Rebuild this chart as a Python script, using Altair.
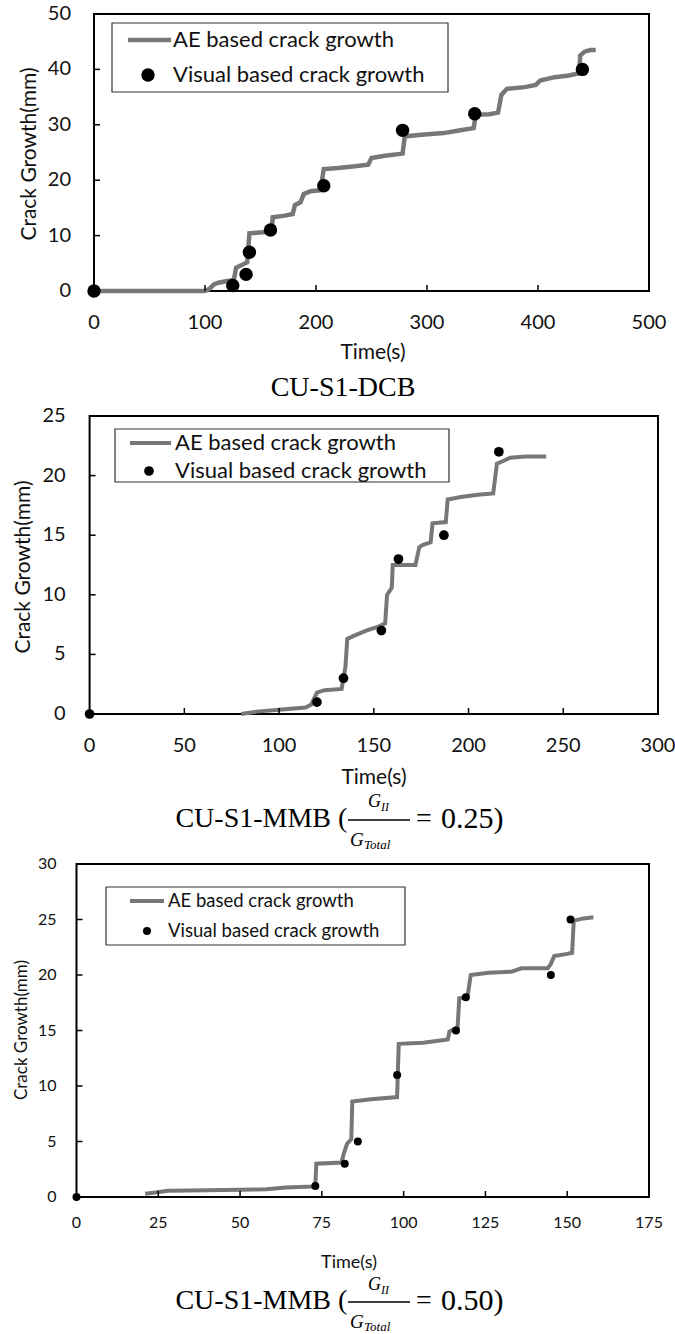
import altair as alt
import pandas as pd

# ---------------- CU-S1-DCB ----------------
dcb_ae_time = [0, 100, 104, 108, 112, 120, 126, 128, 134, 138,
               140, 152, 160, 161, 172, 179, 181, 186, 189, 195,
               204, 207, 220, 235, 247, 250, 262, 278, 280, 295,
               315, 330, 342, 344, 356, 364, 367, 372, 388, 398,
               402, 415, 428, 437, 438, 442, 447, 452]
dcb_ae_growth = [0, 0, 0.4, 1.2, 1.5, 1.8, 2.0, 4.2, 4.8, 5.2,
                 10.4, 10.6, 10.8, 13.3, 13.6, 13.9, 15.5, 16.0, 17.5, 18.0,
                 18.2, 22.0, 22.2, 22.5, 22.8, 24.0, 24.4, 24.8, 27.9, 28.2,
                 28.5, 29.0, 29.4, 31.8, 31.9, 32.2, 35.4, 36.5, 36.8, 37.2,
                 38.0, 38.6, 38.9, 39.3, 42.5, 43.2, 43.5, 43.5]
dcb_vis_time = [0, 125, 137, 140, 159, 207, 278, 343, 440]
dcb_vis_growth = [0, 1, 3, 7, 11, 19, 29, 32, 40]
dcb_x_ticks = [0, 100, 200, 300, 400, 500]
dcb_y_ticks = [0, 10, 20, 30, 40, 50]

# ---------------- CU-S1-MMB, GII/GTotal = 0.25 ----------------
mmb25_ae_time = [80, 88, 100, 114, 117, 120, 124, 133, 134, 135,
                 136, 140, 146, 152, 156, 157, 159.5, 160, 172, 174,
                 176, 180, 181, 188, 189, 196, 205, 213, 215, 218,
                 222, 230, 241]
mmb25_ae_growth = [0, 0.2, 0.35, 0.55, 0.8, 1.8, 2.0, 2.1, 3.0, 3.9,
                   6.3, 6.6, 7.0, 7.3, 7.6, 10.0, 10.6, 12.5, 12.5, 14.0,
                   14.2, 14.4, 16.0, 16.1, 18.0, 18.2, 18.4, 18.5, 21.0, 21.2,
                   21.5, 21.6, 21.6]
mmb25_vis_time = [0, 120, 134, 154, 163, 187, 216]
mmb25_vis_growth = [0, 1, 3, 7, 13, 15, 22]
mmb25_x_ticks = [0, 50, 100, 150, 200, 250, 300]
mmb25_y_ticks = [0, 5, 10, 15, 20, 25]

# ---------------- CU-S1-MMB, GII/GTotal = 0.50 ----------------
mmb50_ae_time = [21, 24, 28, 40, 50, 58, 64, 72, 73, 73.3,
                 81, 81.7, 82.7, 84, 84.3, 90, 98, 98.5, 106, 113.5,
                 114, 116.5, 117, 119.5, 120.5, 126, 133, 136, 144, 145,
                 146, 150, 151.5, 152, 155, 158]
mmb50_ae_growth = [0.3, 0.4, 0.57, 0.6, 0.65, 0.7, 0.85, 0.95, 1.0, 3.0,
                   3.1, 3.9, 4.8, 5.2, 8.6, 8.8, 9.0, 13.8, 13.9, 14.2,
                   14.9, 15.3, 17.9, 18.0, 20.0, 20.2, 20.3, 20.6, 20.6, 21.0,
                   21.7, 21.9, 22.0, 24.9, 25.1, 25.2]
mmb50_vis_time = [0, 73, 82, 86, 98, 116, 119, 145, 151]
mmb50_vis_growth = [0, 1, 3, 5, 11, 15, 18, 20, 25]
mmb50_x_ticks = [0, 25, 50, 75, 100, 125, 150, 175]
mmb50_y_ticks = [0, 5, 10, 15, 20, 25, 30]

LEGEND_LINE = "AE based crack growth"
LEGEND_DOT = "Visual based crack growth"
X_TITLE = "Time(s)"
Y_TITLE = "Crack Growth(mm)"

SANS = "Lato"
SERIF = "Liberation Serif"
GREY = "#777777"
INK = "#111111"
PAGE_W, PAGE_H = 675, 1334


def one():
    return pd.DataFrame({"k": [0]})


def label(x, y, s, size, font=SANS, align="left", style="normal", color=INK, angle=0):
    return alt.Chart(one()).mark_text(
        align=align, baseline="middle", font=font, fontSize=size,
        fontStyle=style, color=color, angle=angle
    ).encode(x=alt.value(x), y=alt.value(y), text=alt.value(s))


def hline(x0, x1, y, color, width):
    return alt.Chart(one()).mark_rule(color=color, strokeWidth=width).encode(
        x=alt.value(x0), x2=alt.value(x1), y=alt.value(y))


def panel(ae_t, ae_g, vis_t, vis_g, xt, yt, box, lay):
    left, right, top, bottom = box
    xs = alt.Scale(domain=[xt[0], xt[-1]], range=[left, right], nice=False, zero=False)
    ys = alt.Scale(domain=[yt[0], yt[-1]], range=[bottom, top], nice=False, zero=False)

    ae = pd.DataFrame({"t": ae_t, "g": ae_g, "i": list(range(len(ae_t)))})
    vis = pd.DataFrame({"t": vis_t, "g": vis_g})

    frame = alt.Chart(pd.DataFrame({
        "x0": [xt[0]], "x1": [xt[-1]], "y0": [yt[0]], "y1": [yt[-1]]
    })).mark_rect(fillOpacity=0, stroke="black", strokeWidth=2).encode(
        x=alt.X("x0:Q", scale=xs, axis=None), x2="x1:Q",
        y=alt.Y("y0:Q", scale=ys, axis=None), y2="y1:Q")

    line = alt.Chart(ae).mark_line(color=GREY, strokeWidth=lay["lw"]).encode(
        x=alt.X("t:Q", scale=xs, axis=None),
        y=alt.Y("g:Q", scale=ys, axis=None),
        order="i:Q")

    dots = alt.Chart(vis).mark_circle(color="black", opacity=1, size=lay["dot"]).encode(
        x=alt.X("t:Q", scale=xs, axis=None),
        y=alt.Y("g:Q", scale=ys, axis=None))

    # inward tick marks
    xtk = alt.Chart(pd.DataFrame({"v": xt[1:-1], "z": [yt[0]] * (len(xt) - 2)})).mark_tick(
        orient="vertical", size=6, thickness=1.5, yOffset=-3, color="black", opacity=1
    ).encode(x=alt.X("v:Q", scale=xs, axis=None), y=alt.Y("z:Q", scale=ys, axis=None))
    ytk = alt.Chart(pd.DataFrame({"v": yt[1:-1], "z": [xt[0]] * (len(yt) - 2)})).mark_tick(
        orient="horizontal", size=6, thickness=1.5, xOffset=3, color="black", opacity=1
    ).encode(y=alt.Y("v:Q", scale=ys, axis=None), x=alt.X("z:Q", scale=xs, axis=None))

    # tick labels placed through the panel scales
    xlab = alt.Chart(pd.DataFrame({"v": xt, "s": [str(v) for v in xt]})).mark_text(
        align="center", baseline="middle", font=SANS, fontSize=lay["tick"], color=INK
    ).encode(x=alt.X("v:Q", scale=xs, axis=None), y=alt.value(bottom + lay["xpad"]),
             text="s:N")
    ylab = alt.Chart(pd.DataFrame({"v": yt, "s": [str(v) for v in yt]})).mark_text(
        align="right", baseline="middle", font=SANS, fontSize=lay["tick"], color=INK
    ).encode(y=alt.Y("v:Q", scale=ys, axis=None), x=alt.value(left - lay["ypad"]),
             text="s:N")
    xtitle = label(lay["xtx"], bottom + lay["xty"], X_TITLE, lay["xtitle"], align="center")
    ytitle = label(lay["ytx"], lay["yty"], Y_TITLE, lay["ytitle"], align="center", angle=270)

    # hand-built legend box
    lb = lay["legend"]
    box_mark = alt.Chart(one()).mark_rect(
        fill="white", stroke="#333333", strokeWidth=1.2
    ).encode(x=alt.value(lb["x0"]), x2=alt.value(lb["x1"]),
             y=alt.value(lb["y0"]), y2=alt.value(lb["y1"]))
    key_line = hline(lb["lx0"], lb["lx1"], lb["ly1"], GREY, lay["lw"])
    key_dot = alt.Chart(one()).mark_circle(color="black", opacity=1, size=lay["dot"]).encode(
        x=alt.value(lb["dx"]), y=alt.value(lb["ly2"]))
    key_t1 = label(lb["tx"], lb["ly1"], LEGEND_LINE, lb["fs"])
    key_t2 = label(lb["tx"], lb["ly2"], LEGEND_DOT, lb["fs"])

    layers = [frame, line, dots, xtk, ytk, xlab, ylab, xtitle, ytitle,
              box_mark, key_line, key_dot, key_t1, key_t2]
    layers += lay["caption"]
    return alt.layer(*layers)


def ratio_caption(cy, gy_top, gy_bot, bar_y, value):
    """Caption 'CU-S1-MMB (GII / GTotal = value)' with a stacked fraction."""
    return [
        label(331, cy, "CU-S1-MMB", 28, font=SERIF, align="right", color="black"),
        label(338, cy, "(", 28, font=SERIF, color="black"),
        label(368, gy_top, "G", 18, font=SERIF, style="italic", color="black"),
        label(381, gy_top + 5, "II", 12, font=SERIF, style="italic", color="black"),
        hline(348, 410, bar_y, "black", 1.3),
        label(350, gy_bot, "G", 19, font=SERIF, style="italic", color="black"),
        label(364, gy_bot + 5, "Total", 13, font=SERIF, style="italic", color="black"),
        label(416, cy, "=", 28, font=SERIF, color="black"),
        label(441, cy, value + ")", 30, font=SERIF, color="black"),
    ]


p1 = panel(
    dcb_ae_time, dcb_ae_growth, dcb_vis_time, dcb_vis_growth,
    dcb_x_ticks, dcb_y_ticks, (94, 649, 14, 291),
    dict(tick=20, xtitle=21, ytitle=21, xpad=32, ypad=23,
         xtx=373, xty=62, ytx=30, yty=154, lw=4.5, dot=180,
         legend=dict(x0=112, x1=448, y0=23, y1=92, lx0=128, lx1=171,
                     ly1=40, ly2=75, dx=148, tx=173, fs=22),
         caption=[label(343, 388, "CU-S1-DCB", 28, font=SERIF, align="center",
                        color="black")]))

p2 = panel(
    mmb25_ae_time, mmb25_ae_growth, mmb25_vis_time, mmb25_vis_growth,
    mmb25_x_ticks, mmb25_y_ticks, (89.6, 658, 416, 714),
    dict(tick=20, xtitle=21, ytitle=21, xpad=32, ypad=24,
         xtx=374, xty=64, ytx=24, yty=567, lw=4, dot=95,
         legend=dict(x0=115, x1=449, y0=429, y1=482, lx0=130, lx1=171,
                     ly1=443, ly2=471, dx=149, tx=175, fs=22),
         caption=ratio_caption(819, 802, 840, 820, "0.25")))

p3 = panel(
    mmb50_ae_time, mmb50_ae_growth, mmb50_vis_time, mmb50_vis_growth,
    mmb50_x_ticks, mmb50_y_ticks, (76.5, 649, 864, 1197),
    dict(tick=16, xtitle=18, ytitle=17, xpad=26, ypad=20,
         xtx=349, xty=66, ytx=22, yty=1030, lw=4, dot=64,
         legend=dict(x0=106, x1=405, y0=887, y1=945, lx0=130, lx1=164,
                     ly1=901, ly2=931, dx=147, tx=168, fs=18.5),
         caption=ratio_caption(1301, 1285, 1322, 1302, "0.50")))

chart = alt.layer(p1, p2, p3).resolve_scale(
    x="independent", y="independent"
).properties(
    width=PAGE_W, height=PAGE_H, padding=0,
    autosize=alt.AutoSizeParams(type="none"),
    background="white",
).configure_view(stroke=None)

chart.save("out.html", embed_options={"renderer": "svg", "actions": False})
